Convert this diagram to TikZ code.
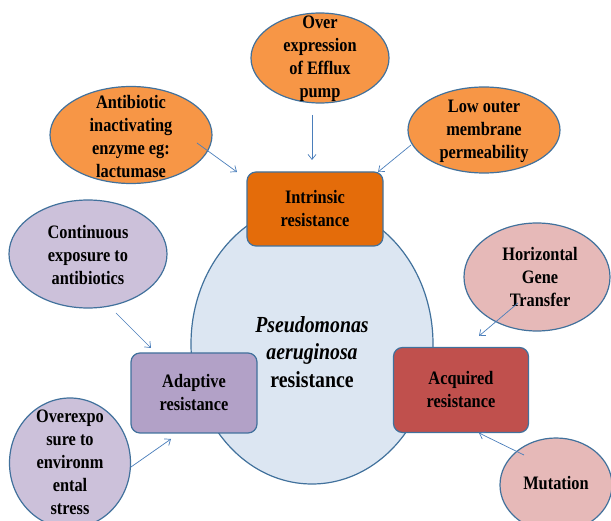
\documentclass[tikz,border=0pt]{standalone}
\usepackage{fontspec}
\setmainfont{Liberation Serif}[FakeStretch=0.86]
\usetikzlibrary{shapes.geometric,arrows.meta}
\definecolor{edge}{HTML}{41719C}
\definecolor{arrowblue}{HTML}{4A7EBB}
\definecolor{core}{HTML}{DCE6F2}
\definecolor{orangelight}{HTML}{F79646}
\definecolor{orangedark}{HTML}{E46C0A}
\definecolor{purplelight}{HTML}{CCC1DA}
\definecolor{purpledark}{HTML}{B2A1C7}
\definecolor{redlight}{HTML}{E6B9B8}
\definecolor{reddark}{HTML}{C0504D}
\begin{document}
\begin{tikzpicture}[x=1pt,y=-1pt,
  oval/.style={ellipse,draw=edge,line width=1.2pt,inner sep=0pt},
  box/.style={rectangle,rounded corners=9pt,draw=edge,line width=1.2pt,inner sep=0pt},
  lab/.style={font=\bfseries\fontsize{19}{23}\selectfont,align=center},
  arr/.style={-{Straight Barb[length=5pt,width=8pt]},draw=arrowblue,line width=0.7pt}]

       \useasboundingbox (0,0) rectangle (611,521);

       \node[oval,fill=core,minimum width=242pt,minimum height=280pt] (pa) at (312,344) {};
       \node[font=\bfseries\fontsize{23}{27.5}\selectfont,align=center] at (312,352)
         {\textit{Pseudomonas}\\ \textit{aeruginosa}\\ resistance};

       \node[box,fill=orangedark,minimum width=136pt,minimum height=74pt] (intr) at (315,209) {};
       \node[lab] at (intr) {Intrinsic\\ resistance};
       \node[box,fill=purpledark,minimum width=126pt,minimum height=80pt] (adap) at (194,393) {};
       \node[lab] at (adap) {Adaptive\\ resistance};
       \node[box,fill=reddark,minimum width=135pt,minimum height=85pt] (acq) at (461,390) {};
       \node[lab] at (acq) {Acquired\\ resistance};

       \node[oval,fill=orangelight,minimum width=138pt,minimum height=90pt] (efflux) at (320,58) {};
       \node[lab] at (320,59) {Over\\ expression\\ of Efflux\\ pump};
       \node[oval,fill=orangelight,minimum width=162pt,minimum height=97pt] (enzyme) at (131,135) {};
       \node[lab] at (131,137) {Antibiotic\\ inactivating\\ enzyme eg:\\ lactumase};
       \node[oval,fill=orangelight,minimum width=152pt,minimum height=86pt] (memb) at (484,130) {};
       \node[lab] at (484,131) {Low outer\\ membrane\\ permeability};

       \node[oval,fill=purplelight,minimum width=158pt,minimum height=108pt] (expo) at (88,254) {};
       \node[lab] at (88,255) {Continuous\\ exposure to\\ antibiotics};
       \node[oval,fill=purplelight,minimum width=121pt,minimum height=130pt] (stress) at (70,463) {};
       \node[lab] at (70,462) {Overexpo\\ sure to\\ environm\\ ental\\ stress};

       \node[oval,fill=redlight,minimum width=146pt,minimum height=108pt] (hgt) at (537,277) {};
       \node[lab] at (540,277) {Horizontal\\ Gene\\ Transfer};
       \node[oval,fill=redlight,minimum width=112pt,minimum height=94pt] (mut) at (556,485) {};
       \node[lab] at (556,483) {Mutation};

       \coordinate (e1) at (312,115); \coordinate (i1) at (312,160);
       \coordinate (e2) at (197,143); \coordinate (i2) at (237,172);
       \coordinate (e3) at (411,145); \coordinate (i3) at (378,172);
       \coordinate (e4) at (116,313); \coordinate (a4) at (151,348);
       \coordinate (e5) at (131,467); \coordinate (a5) at (171,439);
       \coordinate (e6) at (518,303); \coordinate (q6) at (479,336);
       \coordinate (e7) at (524,455); \coordinate (q7) at (479,433);

       \draw[arr] (e1) -- (i1);
       \draw[arr] (e2) -- (i2);
       \draw[arr] (e3) -- (i3);
       \draw[arr] (e4) -- (a4);
       \draw[arr] (e5) -- (a5);
       \draw[arr] (e6) -- (q6);
       \draw[arr] (e7) -- (q7);
     \end{tikzpicture}
\end{document}
